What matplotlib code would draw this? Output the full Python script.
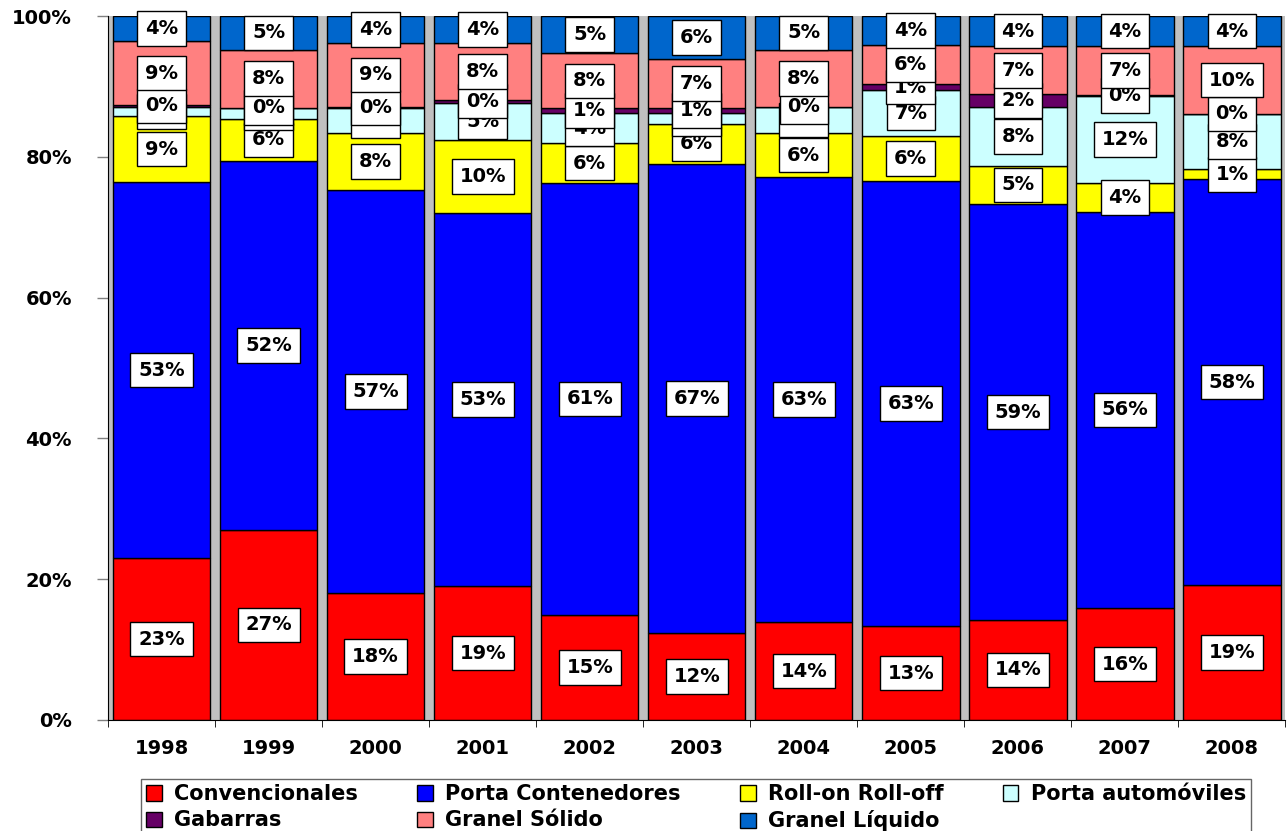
import matplotlib
matplotlib.use("Agg")
import matplotlib.pyplot as plt
import numpy as np

plt.rcParams['font.family'] = ['DejaVu Sans']

years = ['1998', '1999', '2000', '2001', '2002', '2003', '2004', '2005', '2006', '2007', '2008']
series_names = ['Convencionales', 'Porta Contenedores', 'Roll-on Roll-off', 'Porta automóviles',
                'Gabarras', 'Granel Sólido', 'Granel Líquido']
colors = ['#FF0000', '#0000FF', '#FFFF00', '#CCFFFF', '#660066', '#FF8080', '#0066CC']

convencionales = [23.0, 27.0, 18.0, 19.0, 14.9, 12.4, 13.9, 13.3, 14.2, 15.9, 19.2]
porta_contenedores = [53.4, 52.4, 57.3, 53.0, 61.4, 66.6, 63.2, 63.3, 59.1, 56.3, 57.6]
roll_on_roll_off = [9.4, 6.0, 8.1, 10.4, 5.6, 5.7, 6.3, 6.3, 5.4, 4.1, 1.4]
porta_automoviles = [1.3, 1.6, 3.5, 5.3, 4.3, 1.5, 3.7, 6.6, 8.4, 12.4, 7.9]
gabarras = [0.3, 0.0, 0.2, 0.4, 0.7, 0.7, 0.0, 0.8, 1.8, 0.1, 0.0]
granel_solido = [9.0, 8.2, 9.1, 8.1, 7.8, 7.0, 8.1, 5.6, 6.8, 6.9, 9.6]
granel_liquido = [3.6, 4.8, 3.8, 3.8, 5.3, 6.1, 4.8, 4.1, 4.3, 4.3, 4.3]

data = [convencionales, porta_contenedores, roll_on_roll_off, porta_automoviles,
        gabarras, granel_solido, granel_liquido]

fig = plt.figure(figsize=(12.88, 8.31), dpi=100)
ax = fig.add_axes([0.0839, 0.1336, 0.9141, 0.8471])
ax.set_facecolor('#C0C0C0')

x = np.arange(len(years))
bottom = np.zeros(len(years))
handles = []
z = 10
for i, (name, vals, col) in enumerate(zip(series_names, data, colors)):
    vals = np.array(vals)
    h = ax.bar(x, vals, 0.91, bottom=bottom, color=col, edgecolor='black', linewidth=1.0,
               label=name, zorder=2)
    handles.append(h)
    for xi, b, v in zip(x, bottom, vals):
        ax.text(xi, b + v / 2, f"{v:.0f}%", ha='center', va='center', fontsize=14,
                fontweight='bold', zorder=z,
                bbox=dict(boxstyle='square,pad=0.4', fc='white', ec='black', lw=1.0))
        z += 1
    bottom = bottom + vals

ax.set_xlim(-0.5, len(years) - 0.5)
ax.set_ylim(0, 100)
ax.set_yticks([0, 20, 40, 60, 80, 100])
ax.set_yticklabels(['0%', '20%', '40%', '60%', '80%', '100%'], fontsize=14, fontweight='bold')
ax.set_xticks(x)
ax.set_xticklabels(years, fontsize=14, fontweight='bold')
ax.tick_params(axis='x', length=0, pad=14)
ax.tick_params(axis='y', length=8, width=1, color='#808080', pad=18)
ax.set_xticks(np.arange(len(years) + 1) - 0.5, minor=True)
ax.tick_params(axis='x', which='minor', length=5, color='black')
for s in ['top', 'right']:
    ax.spines[s].set_visible(False)
ax.spines['left'].set_color('black')
ax.spines['bottom'].set_color('black')

order = [0, 4, 1, 5, 2, 6, 3]
leg = fig.legend([handles[i] for i in order], [series_names[i] for i in order],
                 ncol=4, loc='upper left', bbox_to_anchor=(0.1095, 0.0, 0.862, 0.0626),
                 mode='expand',
                 frameon=True, fancybox=False, edgecolor='#404040',
                 prop={'size': 15, 'weight': 'bold'},
                 handlelength=0.75, handleheight=0.75, handletextpad=0.6,
                 columnspacing=1.0, labelspacing=0.3, borderpad=0.25, borderaxespad=0.0)
leg.get_frame().set_linewidth(1.0)

fig.savefig('out.png', dpi=100)
